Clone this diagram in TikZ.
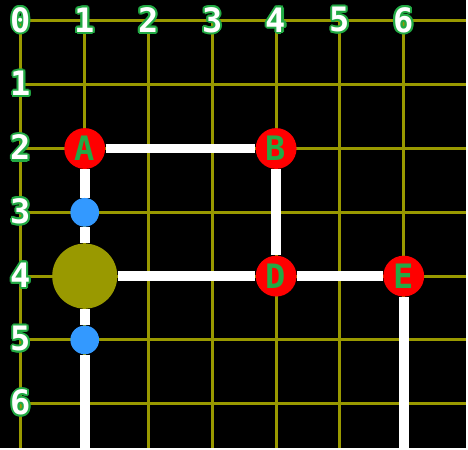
\documentclass[tikz,border=0pt]{standalone}
\usepackage{fontspec}
\setmainfont{DejaVu Sans Mono}
\usepackage{contour}
\contourlength{0.9pt}
\contournumber{12}
\definecolor{gridolive}{HTML}{999900}
\definecolor{pinblue}{HTML}{3399FF}
\definecolor{labgreen}{HTML}{22AA44}
\pgfdeclarelayer{board}
\pgfdeclarelayer{wires}
\pgfsetlayers{board,wires,main}

\begin{document}
\begin{tikzpicture}[x=1cm,y=-1cm,
  gridline/.style={draw=gridolive,line width=0.47mm},
  wire/.style={draw=white,line width=1.56mm},
  station/.style={circle,fill=red,minimum size=6.4mm,inner sep=0,font=\fontsize{15}{15}\selectfont\bfseries,text=labgreen},
  hub/.style={circle,fill=gridolive,minimum size=10.2mm,inner sep=0},
  pin/.style={circle,fill=pinblue,minimum size=4.5mm,inner sep=0},
  ticklab/.style={inner sep=0,font=\fontsize{15}{15}\selectfont\bfseries}]
% board: 1 unit = 64px, origin at pixel (21,21)
\begin{pgfonlayer}{board}
\fill[black] (-0.328,-0.328) rectangle (6.984,6.6875);
\foreach \k in {0,...,6}{
  \draw[gridline] (\k,0) -- (\k,6.6875);
  \draw[gridline] (0,\k) -- (6.984,\k);
}
\end{pgfonlayer}
\useasboundingbox (-0.328,-0.328) rectangle (6.984,6.6875);
% axis numbers
\foreach \k in {0,...,6}
  \node[ticklab] (col\k) at (\k,0) {\contour{labgreen}{\textcolor{white}{\k}}};
\foreach \k in {1,...,6}
  \node[ticklab] (row\k) at (0,\k) {\contour{labgreen}{\textcolor{white}{\k}}};
% stations
\node[station] (A) at (1,2) {A};
\node[station] (B) at (4,2) {B};
\node[station] (D) at (4,4) {D};
\node[station] (E) at (6,4) {E};
\node[hub] (H) at (1,4) {};
\node[pin] (p3) at (1,3) {};
\node[pin] (p5) at (1,5) {};
\coordinate (aend) at (1,6.6875);
\coordinate (eend) at (6,6.6875);
% tracks
\begin{pgfonlayer}{wires}
\draw[wire] (A) -- (B) -- (D) -- (E) -- (eend);
\draw[wire] (A) -- (p3) -- (H) -- (p5) -- (aend);
\draw[wire] (H) -- (D);
\end{pgfonlayer}
\end{tikzpicture}
\end{document}
